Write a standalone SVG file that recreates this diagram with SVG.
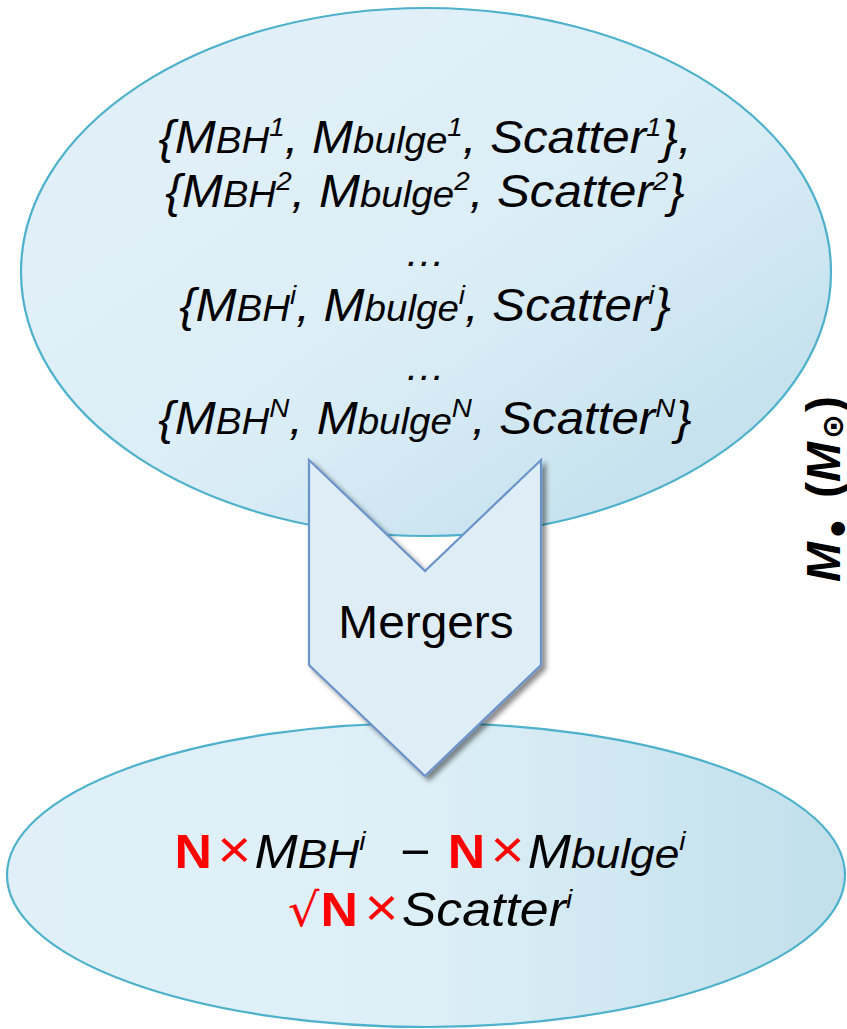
<svg xmlns="http://www.w3.org/2000/svg" width="847" height="1029" viewBox="0 0 847 1029">
<defs>
<linearGradient id="gTop" x1="0.3" y1="0.2" x2="1" y2="0.85">
<stop offset="0" stop-color="#e1f0f8"/>
<stop offset="0.45" stop-color="#daedf6"/>
<stop offset="1" stop-color="#bfdeeb"/>
</linearGradient>
<linearGradient id="gBot" x1="0" y1="0.5" x2="1" y2="0.5">
<stop offset="0" stop-color="#e1f0f8"/>
<stop offset="0.5" stop-color="#ddeff7"/>
<stop offset="1" stop-color="#c0dfeb"/>
</linearGradient>
<filter id="shadow" x="-20%" y="-20%" width="140%" height="140%">
<feDropShadow dx="4" dy="4" stdDeviation="2.5" flood-color="#000" flood-opacity="0.45"/>
</filter>
<style>
.ell{stroke:#4db1cc;stroke-width:2.2}
.t{font-family:"Liberation Sans",Arial,sans-serif;font-style:italic;fill:#000;font-size:46px}
.tb{font-size:48px}
.s{font-size:36px}
.s2{font-size:41px}
.sup{font-size:26px}
.dots{font-size:38px}
.red{fill:#ff0000;font-style:normal}
.x{font-size:54px;font-weight:normal}
.b{font-weight:bold}
</style>
</defs>

<g id="top-node">
<ellipse class="ell" cx="426" cy="272" rx="405" ry="264" fill="url(#gTop)"/>
<g transform="translate(425 0) scale(1.07 1) translate(-425 0)">
<text class="t" text-anchor="middle" x="425" y="153">{M<tspan class="s">BH</tspan><tspan class="sup" dy="-17">1</tspan><tspan dy="17">, M</tspan><tspan class="s">bulge</tspan><tspan class="sup" dy="-17">1</tspan><tspan dy="17">, Scatter</tspan><tspan class="sup" dy="-17">1</tspan><tspan dy="17">},</tspan></text>
<text class="t" text-anchor="middle" x="425" y="207">{M<tspan class="s">BH</tspan><tspan class="sup" dy="-17">2</tspan><tspan dy="17">, M</tspan><tspan class="s">bulge</tspan><tspan class="sup" dy="-17">2</tspan><tspan dy="17">, Scatter</tspan><tspan class="sup" dy="-17">2</tspan><tspan dy="17">}</tspan></text>
<text class="t dots" text-anchor="middle" x="425" y="266">…</text>
<text class="t" text-anchor="middle" x="425" y="321">{M<tspan class="s">BH</tspan><tspan class="sup" dy="-17">i</tspan><tspan dy="17">, M</tspan><tspan class="s">bulge</tspan><tspan class="sup" dy="-17">i</tspan><tspan dy="17">, Scatter</tspan><tspan class="sup" dy="-17">i</tspan><tspan dy="17">}</tspan></text>
<text class="t dots" text-anchor="middle" x="425" y="380">…</text>
<text class="t" text-anchor="middle" x="425" y="434">{M<tspan class="s">BH</tspan><tspan class="sup" dy="-17">N</tspan><tspan dy="17">, M</tspan><tspan class="s">bulge</tspan><tspan class="sup" dy="-17">N</tspan><tspan dy="17">, Scatter</tspan><tspan class="sup" dy="-17">N</tspan><tspan dy="17">}</tspan></text>
</g>
</g>

<g id="bottom-node">
<ellipse class="ell" cx="426" cy="875" rx="419" ry="152" fill="url(#gBot)"/>
<g transform="translate(430 0) scale(1.08 1) translate(-430 0)">
<text class="t tb" text-anchor="middle" x="430" y="868"><tspan class="red b">N</tspan><tspan class="red x" dx="5">×</tspan><tspan dx="3">M</tspan><tspan class="s2">BH</tspan><tspan class="sup" dy="-18">i</tspan><tspan dy="18" dx="32" style="font-style:normal">−</tspan><tspan class="red b" dx="16">N</tspan><tspan class="red x" dx="5">×</tspan><tspan dx="3">M</tspan><tspan class="s2">bulge</tspan><tspan class="sup" dy="-18">i</tspan></text>
<text class="t tb" text-anchor="middle" x="430" y="926"><tspan class="red" style="font-family:'DejaVu Sans',sans-serif;font-size:46px">√</tspan><tspan class="red b" dx="1">N</tspan><tspan class="red x" dx="6">×</tspan><tspan dx="3">Scatter</tspan><tspan class="sup" dy="-18">i</tspan></text>
</g>
</g>

<g id="connectors">
<g id="mergers">
<polygon points="309,460 425,571 541,460 541,665 425,776 309,665" fill="#deedf6" stroke="#6b93c7" stroke-width="2.2" stroke-linejoin="miter" filter="url(#shadow)"/>
<text x="426" y="638" text-anchor="middle" transform="translate(426 0) scale(1.04 1) translate(-426 0)" style="font-family:'Liberation Sans',Arial,sans-serif;font-size:46px;fill:#000">Mergers</text>
</g>
</g>

<g id="axis-label">
<text transform="translate(840,582) rotate(-90)" style="font-family:'Liberation Sans',Arial,sans-serif;font-weight:bold;font-style:italic;font-size:48px;fill:#000"><tspan x="0" y="0">M</tspan><tspan x="45" y="14" style="font-size:48px;font-style:normal">•</tspan><tspan x="84" y="0" style="font-style:normal">(</tspan><tspan x="100" y="0">M</tspan><tspan x="143" y="3" style="font-size:30px;font-style:normal;font-family:'DejaVu Sans',sans-serif">⊙</tspan><tspan x="170" y="0" style="font-style:normal">)</tspan></text>
</g>
</svg>
